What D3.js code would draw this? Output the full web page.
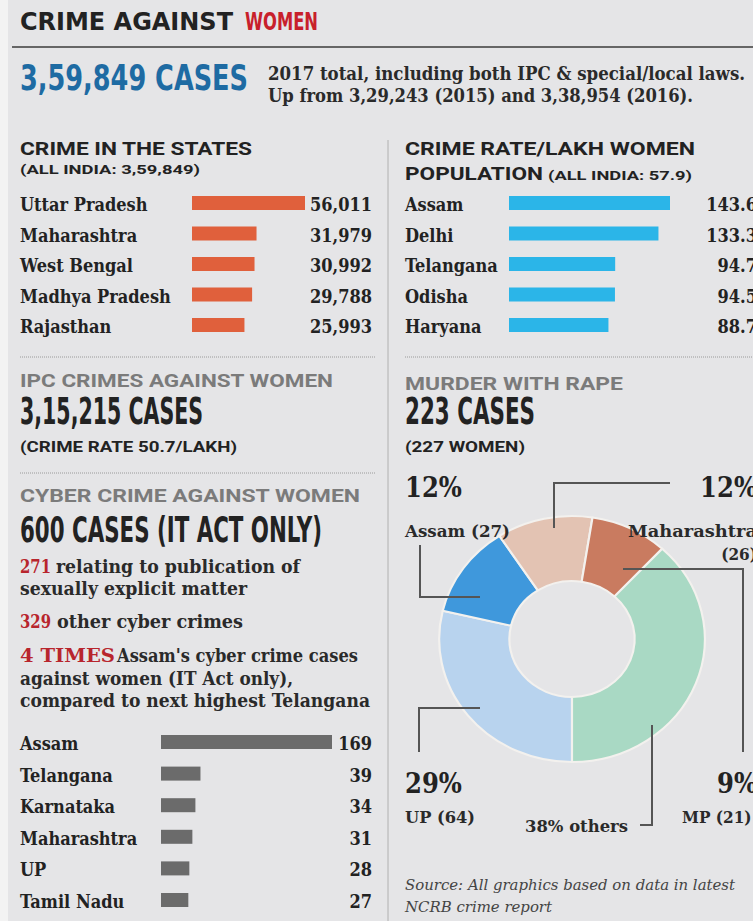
<!DOCTYPE html>
<meta charset="utf-8">
<head>
<style>
  body { margin:0; background:#e5e5e7; }
  svg { display:block; }
  .cond { font-family: "Liberation Sans Narrow", "DejaVu Sans Condensed", "Roboto", sans-serif; font-weight: bold; }
  .sans { font-family: "Roboto", "Liberation Sans", sans-serif; font-weight: bold; }
  .serif { font-family: "DejaVu Serif Condensed", "DejaVu Serif", serif; font-stretch: condensed; font-weight: bold; }
  .ital { font-family: "DejaVu Serif Condensed", "DejaVu Serif", serif; font-stretch: condensed; font-style: italic; }
</style>
<script src="https://d3js.org/d3.v7.min.js"></script>
</head>
<body>
<svg></svg>
<script>
// crime in the states (total cases, 2017)
var stateNames = ["Uttar Pradesh", "Maharashtra", "West Bengal", "Madhya Pradesh", "Rajasthan"];
var stateCases = [56011, 31979, 30992, 29788, 25993];

// crime rate per lakh women population
var rateNames = ["Assam", "Delhi", "Telangana", "Odisha", "Haryana"];
var rateValues = [143.6, 133.3, 94.7, 94.5, 88.7];

// cyber crime against women (IT act only)
var cyberNames = ["Assam", "Telangana", "Karnataka", "Maharashtra", "UP", "Tamil Nadu"];
var cyberCases = [169, 39, 34, 31, 28, 27];

// murder with rape
var murderNames = ["UP", "Assam", "Maharashtra", "MP", "Others"];
var murderCases = [64, 27, 26, 21, 85];
var murderColors = ["#b8d3ee", "#3f98dc", "#e3c3b3", "#c97b60", "#a9d9c4"];

var width = 753, height = 921;
var svg = d3.select("svg").attr("width", width).attr("height", height);

svg.append("rect").attr("width", 8).attr("height", height).attr("fill", "#f3f3f3");

function label(x, y, str, cls, size, fill, len, anchor) {
  var t = svg.append("text").attr("x", x).attr("y", y).attr("class", cls)
    .attr("font-size", size).attr("fill", fill || "#222").text(str);
  if (anchor) t.attr("text-anchor", anchor);
  if (len) t.attr("textLength", len).attr("lengthAdjust", "spacingAndGlyphs");
  return t;
}
function rule(x1, y1, x2, y2, col, w, dash) {
  var l = svg.append("line").attr("x1", x1).attr("y1", y1).attr("x2", x2).attr("y2", y2)
    .attr("stroke", col).attr("stroke-width", w);
  if (dash) l.attr("stroke-dasharray", dash);
}

// header
label(20, 30, "CRIME AGAINST", "cond", 25, "#222", 213);
label(245, 30, "WOMEN", "cond", 25, "#c8202b", 73);
rule(12, 47, width, 47, "#666", 2);
label(20, 90, "3,59,849 CASES", "cond", 35, "#1e6ba3", 228);
label(268, 80, "2017 total, including both IPC & special/local laws.", "serif", 18, "#2a2a2a", 477);
label(268, 102, "Up from 3,29,243 (2015) and 3,38,954 (2016).", "serif", 18, "#2a2a2a", 425);

rule(388, 140, 388, height, "#b0b0b0", 1);

// ---- crime in the states
label(20, 155, "CRIME IN THE STATES", "sans", 18, "#222", 232);
label(20, 174, "(ALL INDIA: 3,59,849)", "sans", 13, "#222", 180);

var yState = d3.scalePoint().domain(stateNames).range([211, 333]);
var xState = d3.scaleLinear().domain([0, 56011]).range([0, 113]);
var gState = svg.append("g");
gState.selectAll("rect").data(stateNames).enter().append("rect")
  .attr("x", 192).attr("y", function (d) { return yState(d) - 15 })
  .attr("width", function (d, i) { return xState(stateCases[i]) })
  .attr("height", 14).attr("fill", "#e0603c");
gState.selectAll("text.name").data(stateNames).enter().append("text")
  .attr("class", "serif name").attr("font-size", 18).attr("fill", "#222")
  .attr("x", 20).attr("y", function (d) { return yState(d) }).text(function (d) { return d });
gState.selectAll("text.val").data(stateNames).enter().append("text")
  .attr("class", "serif val").attr("font-size", 18).attr("fill", "#222").attr("text-anchor", "end")
  .attr("x", 372).attr("y", function (d) { return yState(d) })
  .text(function (d, i) { return d3.format(",")(stateCases[i]) });
rule(20, 357, 375, 357, "#9a9a9a", 1, "1,1");

// ---- crime rate
label(405, 155, "CRIME RATE/LAKH WOMEN", "sans", 18, "#222", 290);
label(405, 180, "POPULATION", "sans", 18, "#222", 138);
label(548, 180, "(ALL INDIA: 57.9)", "sans", 13, "#222", 144);

var yRate = d3.scalePoint().domain(rateNames).range([211, 333]);
var xRate = d3.scaleLinear().domain([0, 143.6]).range([0, 161]);
var gRate = svg.append("g");
gRate.selectAll("rect").data(rateNames).enter().append("rect")
  .attr("x", 509).attr("y", function (d) { return yRate(d) - 15 })
  .attr("width", function (d, i) { return xRate(rateValues[i]) })
  .attr("height", 14).attr("fill", "#2bb5e8");
gRate.selectAll("text.name").data(rateNames).enter().append("text")
  .attr("class", "serif name").attr("font-size", 18).attr("fill", "#222")
  .attr("x", 405).attr("y", function (d) { return yRate(d) }).text(function (d) { return d });
gRate.selectAll("text.val").data(rateNames).enter().append("text")
  .attr("class", "serif val").attr("font-size", 18).attr("fill", "#222").attr("text-anchor", "end")
  .attr("x", 757).attr("y", function (d) { return yRate(d) })
  .text(function (d, i) { return d3.format(".1f")(rateValues[i]) });
rule(405, 357, width, 357, "#9a9a9a", 1, "1,1");

// ---- IPC
label(20, 387, "IPC CRIMES AGAINST WOMEN", "sans", 18, "#7b7b7b", 313);
label(20, 424, "3,15,215 CASES", "cond", 37, "#222", 183);
label(20, 452, "(CRIME RATE 50.7/LAKH)", "sans", 14, "#222", 217);
rule(20, 473, 375, 473, "#9a9a9a", 1, "1,1");

// ---- cyber crime
label(20, 502, "CYBER CRIME AGAINST WOMEN", "sans", 18, "#7b7b7b", 340);
label(20, 542, "600 CASES (IT ACT ONLY)", "cond", 35, "#222", 302);
label(20, 573, "271", "serif", 18, "#b8252d", 31);
label(56, 573, "relating to publication of", "serif", 18, "#2a2a2a", 244);
label(20, 595, "sexually explicit matter", "serif", 18, "#2a2a2a", 227);
label(20, 628, "329", "serif", 18, "#b8252d", 31);
label(57, 628, "other cyber crimes", "serif", 18, "#2a2a2a", 186);
label(20, 662, "4 TIMES", "serif", 18, "#b8252d", 95);
label(117, 662, "Assam's cyber crime cases", "serif", 18, "#2a2a2a", 241);
label(20, 685, "against women (IT Act only),", "serif", 18, "#2a2a2a", 273);
label(20, 707, "compared to next highest Telangana", "serif", 18, "#2a2a2a", 350);

var yCyber = d3.scalePoint().domain(cyberNames).range([750, 908]);
var xCyber = d3.scaleLinear().domain([0, 169]).range([0, 171]);
var gCyber = svg.append("g");
gCyber.selectAll("rect").data(cyberNames).enter().append("rect")
  .attr("x", 161).attr("y", function (d) { return yCyber(d) - 15 })
  .attr("width", function (d, i) { return xCyber(cyberCases[i]) })
  .attr("height", 14).attr("fill", "#6b6b6b");
gCyber.selectAll("text.name").data(cyberNames).enter().append("text")
  .attr("class", "serif name").attr("font-size", 18).attr("fill", "#222")
  .attr("x", 20).attr("y", function (d) { return yCyber(d) }).text(function (d) { return d });
gCyber.selectAll("text.val").data(cyberNames).enter().append("text")
  .attr("class", "serif val").attr("font-size", 18).attr("fill", "#222").attr("text-anchor", "end")
  .attr("x", 372).attr("y", function (d) { return yCyber(d) })
  .text(function (d, i) { return cyberCases[i] });

// ---- murder with rape
label(405, 390, "MURDER WITH RAPE", "sans", 18, "#7b7b7b", 218);
label(405, 424, "223 CASES", "cond", 37, "#222", 130);
label(405, 452, "(227 WOMEN)", "sans", 14, "#222", 120);

var pie = d3.pie().sort(null).value(function (d) { return d })
  .startAngle(Math.PI).endAngle(3 * Math.PI);
var arc = d3.arc().innerRadius(58).outerRadius(123);
var gDonut = svg.append("g").attr("transform", "translate(572,639) scale(1.08,1)");
gDonut.selectAll("path").data(pie(murderCases)).enter().append("path")
  .attr("d", arc)
  .attr("fill", function (d, i) { return murderColors[i] })
  .attr("stroke", "#f3f1ee").attr("stroke-width", 2);

// leader lines
var leaders = [
  [[480, 597], [420, 597], [420, 545]],
  [[554, 528], [554, 483], [670, 483]],
  [[623, 569], [743, 569], [743, 752]],
  [[480, 708], [419, 708], [419, 752]],
  [[652, 725], [652, 825], [640, 825]]
];
svg.selectAll("path.leader").data(leaders).enter().append("path")
  .attr("class", "leader").attr("d", d3.line())
  .attr("fill", "none").attr("stroke", "#555").attr("stroke-width", 2);

var pct = d3.format(".0%");
var tot = d3.sum(murderCases);
label(405, 497, pct(murderCases[1] / tot), "serif", 27, "#222");
label(405, 537, "Assam (27)", "serif", 17, "#2a2a2a", 105);
label(757, 497, pct(murderCases[2] / tot), "serif", 27, "#222", null, "end");
label(757, 537, "Maharashtra", "serif", 17, "#2a2a2a", 129, "end");
label(757, 560, "(26)", "serif", 17, "#2a2a2a", null, "end");
label(405, 793, pct(murderCases[0] / tot), "serif", 27, "#222");
label(405, 823, "UP (64)", "serif", 17, "#2a2a2a", 70);
label(628, 832, "38% others", "serif", 17, "#2a2a2a", 103, "end");
label(757, 793, pct(murderCases[3] / tot), "serif", 27, "#222", null, "end");
label(682, 823, "MP (21)", "serif", 17, "#2a2a2a");

label(405, 890, "Source: All graphics based on data in latest", "ital", 15, "#444", 330);
label(405, 912, "NCRB crime report", "ital", 15, "#444", 147);
</script>
</body>
